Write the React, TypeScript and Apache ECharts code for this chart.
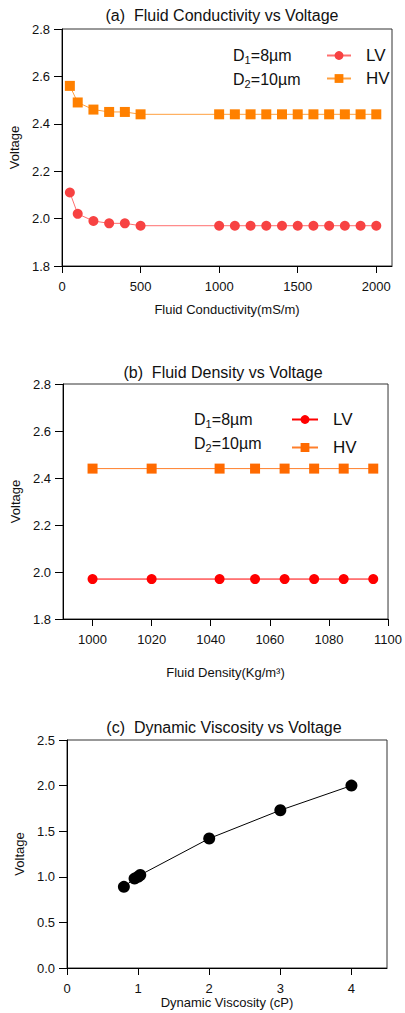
import React, { useEffect, useRef } from "react";
import * as echarts from "echarts";

const FONT = "'Liberation Sans', Arial, Helvetica, sans-serif";

// Panel (a) Fluid conductivity
const condX = [50, 100, 200, 300, 400, 500, 1000, 1100, 1200, 1300, 1400, 1500, 1600, 1700, 1800, 1900, 2000];
const condLV = [2.11, 2.02, 1.99, 1.98, 1.98, 1.97, 1.97, 1.97, 1.97, 1.97, 1.97, 1.97, 1.97, 1.97, 1.97, 1.97, 1.97];
const condHV = [2.56, 2.49, 2.46, 2.45, 2.45, 2.44, 2.44, 2.44, 2.44, 2.44, 2.44, 2.44, 2.44, 2.44, 2.44, 2.44, 2.44];
const condTicks = [0, 500, 1000, 1500, 2000];

// Panel (b) Fluid density
const densX = [1000, 1020, 1043, 1055, 1065, 1075, 1085, 1095];
const densLV = [1.97, 1.97, 1.97, 1.97, 1.97, 1.97, 1.97, 1.97];
const densHV = [2.44, 2.44, 2.44, 2.44, 2.44, 2.44, 2.44, 2.44];
const densTicks = [1000, 1020, 1040, 1060, 1080, 1100];

// Panel (c) Dynamic viscosity
const viscX = [0.8, 0.95, 1.0, 1.03, 2, 3, 4];
const viscV = [0.89, 0.98, 1.0, 1.02, 1.42, 1.73, 2.0];
const viscTicks = [0, 1, 2, 3, 4];

const titles = [
  "(a)  Fluid Conductivity vs Voltage",
  "(b)  Fluid Density vs Voltage",
  "(c)  Dynamic Viscosity vs Voltage",
];

const zip = (xs: number[], ys: number[]) => xs.map((x, i) => [x, ys[i]]);

function xAxis(gridIndex: number, min: number, max: number, ticks: number[], name: string, nameGap: number) {
  return {
    type: "value",
    gridIndex,
    min,
    max,
    name,
    nameLocation: "middle",
    nameGap,
    nameTextStyle: { fontFamily: FONT, fontSize: 13, color: "#111" },
    axisLine: { show: true, onZero: false, lineStyle: { color: "#000", width: 1 } },
    axisTick: { show: true, length: 7, customValues: ticks, lineStyle: { color: "#000" } },
    axisLabel: {
      customValues: ticks,
      margin: 14,
      fontFamily: FONT,
      fontSize: 13,
      color: "#111",
      formatter: (v: number) => String(v),
    },
    splitLine: { show: false },
  };
}

function yAxis(gridIndex: number, min: number, max: number, interval: number) {
  return {
    type: "value",
    gridIndex,
    min,
    max,
    interval,
    name: "Voltage",
    nameLocation: "middle",
    nameGap: 37,
    nameTextStyle: { fontFamily: FONT, fontSize: 13, color: "#111" },
    axisLine: { show: true, onZero: false, lineStyle: { color: "#000", width: 1 } },
    axisTick: { show: true, length: 8, lineStyle: { color: "#000" } },
    axisLabel: {
      margin: 12,
      fontFamily: FONT,
      fontSize: 13,
      color: "#111",
      formatter: (v: number) => v.toFixed(1),
    },
    splitLine: { show: false },
  };
}

function dLabel(x: number, y: number, sub: string, rest: string) {
  const f = `16px ${FONT}`;
  return [
    { type: "text", x, y, style: { text: "D", font: f, fill: "#111", textVerticalAlign: "middle" } },
    { type: "text", x: x + 11.6, y: y + 5, style: { text: sub, font: `11px ${FONT}`, fill: "#111", textVerticalAlign: "middle" } },
    { type: "text", x: x + 17.8, y, style: { text: rest, font: f, fill: "#111", textVerticalAlign: "middle" } },
  ];
}

export default function App() {
  const ref = useRef<HTMLDivElement>(null);
  useEffect(() => {
    if (!ref.current) return;
    const chart = echarts.init(ref.current, null, { renderer: "svg" });
    const gridCommon = { show: true, borderColor: "#333", borderWidth: 1, backgroundColor: "transparent" };
    const option = {
      animation: false,
      backgroundColor: "#fff",
      grid: [
        { ...gridCommon, left: 62, top: 29, width: 330, height: 237 },
        { ...gridCommon, left: 63, top: 384, width: 328, height: 235 },
        { ...gridCommon, left: 67, top: 740, width: 320, height: 228 },
      ],
      xAxis: [
        xAxis(0, 0, 2100, condTicks, "Fluid Conductivity(mS/m)", 37),
        xAxis(1, 990, 1100, densTicks, "Fluid Density(Kg/m\u00B3)", 47),
        xAxis(2, 0, 4.5, viscTicks, "Dynamic Viscosity (cP)", 28),
      ],
      yAxis: [yAxis(0, 1.8, 2.8, 0.2), yAxis(1, 1.8, 2.8, 0.2), yAxis(2, 0, 2.5, 0.5)],
      legend: [
        {
          data: ["LV", "HV"],
          orient: "vertical",
          left: 326,
          top: 47,
          padding: 0,
          itemWidth: 24,
          itemHeight: 11,
          itemGap: 6,
          textStyle: { fontFamily: FONT, fontSize: 17, color: "#111", padding: [0, 0, 0, 10] },
        },
        {
          data: ["LV ", "HV "],
          orient: "vertical",
          left: 291,
          top: 411,
          padding: 0,
          itemWidth: 26,
          itemHeight: 11,
          itemGap: 11,
          formatter: (n: string) => n.trim(),
          textStyle: { fontFamily: FONT, fontSize: 17, color: "#111", padding: [0, 0, 0, 10] },
        },
      ],
      graphic: [
        ...titles.map((t, i) => ({
          type: "text",
          x: [222, 223, 224][i],
          y: [15, 372, 727][i],
          style: { text: t, font: `16px ${FONT}`, fill: "#111", textAlign: "center", textVerticalAlign: "middle" },
        })),
        ...dLabel(233, 55, "1", "=8\u00B5m"),
        ...dLabel(233, 79, "2", "=10\u00B5m"),
        ...dLabel(194, 419, "1", "=8\u00B5m"),
        ...dLabel(194, 443, "2", "=10\u00B5m"),
      ],
      series: [
        {
          name: "LV",
          type: "line",
          xAxisIndex: 0,
          yAxisIndex: 0,
          data: zip(condX, condLV),
          symbol: "circle",
          symbolSize: 10,
          itemStyle: { color: "#f74242" },
          lineStyle: { color: "#ff6f6f", width: 1 },
        },
        {
          name: "HV",
          type: "line",
          xAxisIndex: 0,
          yAxisIndex: 0,
          data: zip(condX, condHV),
          symbol: "rect",
          symbolSize: 10,
          itemStyle: { color: "#ff8000" },
          lineStyle: { color: "#ffa040", width: 1 },
        },
        {
          name: "LV ",
          type: "line",
          xAxisIndex: 1,
          yAxisIndex: 1,
          data: zip(densX, densLV),
          symbol: "circle",
          symbolSize: 10,
          itemStyle: { color: "#ff0000" },
          lineStyle: { color: "#ff0000", width: 1 },
        },
        {
          name: "HV ",
          type: "line",
          xAxisIndex: 1,
          yAxisIndex: 1,
          data: zip(densX, densHV),
          symbol: "rect",
          symbolSize: 10,
          itemStyle: { color: "#ff6a00" },
          lineStyle: { color: "#ff7f2a", width: 1 },
        },
        {
          name: "Viscosity",
          type: "line",
          xAxisIndex: 2,
          yAxisIndex: 2,
          data: zip(viscX, viscV),
          symbol: "circle",
          symbolSize: 12,
          itemStyle: { color: "#000" },
          lineStyle: { color: "#000", width: 1 },
        },
      ],
    };
    chart.setOption(option as any);
    return () => chart.dispose();
  }, []);
  return (
    <div
      ref={ref}
      style={{ position: "absolute", left: 0, top: 0, width: 405, height: 1013, background: "#fff" }}
    />
  );
}
